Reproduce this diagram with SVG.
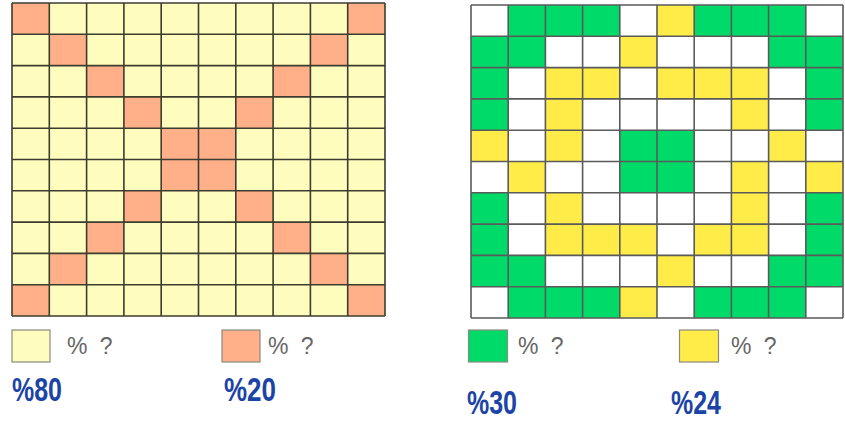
<svg xmlns="http://www.w3.org/2000/svg" width="845" height="425" viewBox="0 0 845 425">
<style>
.ly{fill:#FFFDBE}.or{fill:#FFB088}.gr{fill:#00DA68}.ye{fill:#FFEC48}.wh{fill:#FFFFFF}
.gl{fill:none;stroke:#3c3c30;stroke-width:1.6}
.gr2{fill:none;stroke:#5a5a5a;stroke-width:1.6}
.q{font-family:"Liberation Sans",Arial,sans-serif;font-size:23px;fill:#666666;word-spacing:6px}
.pc{font-family:"Liberation Sans",Arial,sans-serif;font-weight:bold;font-size:33px;fill:#1C44A6}
.lb{stroke:#8a8a80;stroke-width:1.2}
</style>
<rect width="845" height="425" fill="#FFFFFF"/>
<g id="left-grid">
<rect x="12" y="3" width="373" height="313" class="ly"/>
<g class="or">
<rect x="12" y="3" width="37.3" height="31.3"/><rect x="347.7" y="3" width="37.3" height="31.3"/>
<rect x="49.3" y="34.3" width="37.3" height="31.3"/><rect x="310.4" y="34.3" width="37.3" height="31.3"/>
<rect x="86.6" y="65.6" width="37.3" height="31.3"/><rect x="273.1" y="65.6" width="37.3" height="31.3"/>
<rect x="123.9" y="96.9" width="37.3" height="31.3"/><rect x="235.8" y="96.9" width="37.3" height="31.3"/>
<rect x="161.2" y="128.2" width="37.3" height="31.3"/><rect x="198.5" y="128.2" width="37.3" height="31.3"/>
<rect x="161.2" y="159.5" width="37.3" height="31.3"/><rect x="198.5" y="159.5" width="37.3" height="31.3"/>
<rect x="123.9" y="190.8" width="37.3" height="31.3"/><rect x="235.8" y="190.8" width="37.3" height="31.3"/>
<rect x="86.6" y="222.1" width="37.3" height="31.3"/><rect x="273.1" y="222.1" width="37.3" height="31.3"/>
<rect x="49.3" y="253.4" width="37.3" height="31.3"/><rect x="310.4" y="253.4" width="37.3" height="31.3"/>
<rect x="12" y="284.7" width="37.3" height="31.3"/><rect x="347.7" y="284.7" width="37.3" height="31.3"/>
</g>
<path class="gl" d="M12 3V316M49.3 3V316M86.6 3V316M123.9 3V316M161.2 3V316M198.5 3V316M235.8 3V316M273.1 3V316M310.4 3V316M347.7 3V316M385 3V316M12 3H385M12 34.3H385M12 65.6H385M12 96.9H385M12 128.2H385M12 159.5H385M12 190.8H385M12 222.1H385M12 253.4H385M12 284.7H385M12 316H385"/>
</g>
<g id="right-grid">
<rect x="471" y="5" width="372" height="313" class="wh"/>
<g class="gr">
<!-- row0 -->
<rect x="508.2" y="5" width="37.2" height="31.3"/><rect x="545.4" y="5" width="37.2" height="31.3"/><rect x="582.6" y="5" width="37.2" height="31.3"/>
<rect x="694.2" y="5" width="37.2" height="31.3"/><rect x="731.4" y="5" width="37.2" height="31.3"/><rect x="768.6" y="5" width="37.2" height="31.3"/>
<!-- row1 -->
<rect x="471" y="36.3" width="37.2" height="31.3"/><rect x="508.2" y="36.3" width="37.2" height="31.3"/>
<rect x="768.6" y="36.3" width="37.2" height="31.3"/><rect x="805.8" y="36.3" width="37.2" height="31.3"/>
<!-- rows 2,3 -->
<rect x="471" y="67.6" width="37.2" height="31.3"/><rect x="805.8" y="67.6" width="37.2" height="31.3"/>
<rect x="471" y="98.9" width="37.2" height="31.3"/><rect x="805.8" y="98.9" width="37.2" height="31.3"/>
<!-- rows 4,5 center -->
<rect x="619.8" y="130.2" width="37.2" height="31.3"/><rect x="657" y="130.2" width="37.2" height="31.3"/>
<rect x="619.8" y="161.5" width="37.2" height="31.3"/><rect x="657" y="161.5" width="37.2" height="31.3"/>
<!-- rows 6,7 -->
<rect x="471" y="192.8" width="37.2" height="31.3"/><rect x="805.8" y="192.8" width="37.2" height="31.3"/>
<rect x="471" y="224.1" width="37.2" height="31.3"/><rect x="805.8" y="224.1" width="37.2" height="31.3"/>
<!-- row8 -->
<rect x="471" y="255.4" width="37.2" height="31.3"/><rect x="508.2" y="255.4" width="37.2" height="31.3"/>
<rect x="768.6" y="255.4" width="37.2" height="31.3"/><rect x="805.8" y="255.4" width="37.2" height="31.3"/>
<!-- row9 -->
<rect x="508.2" y="286.7" width="37.2" height="31.3"/><rect x="545.4" y="286.7" width="37.2" height="31.3"/><rect x="582.6" y="286.7" width="37.2" height="31.3"/>
<rect x="694.2" y="286.7" width="37.2" height="31.3"/><rect x="731.4" y="286.7" width="37.2" height="31.3"/><rect x="768.6" y="286.7" width="37.2" height="31.3"/>
</g>
<g class="ye">
<!-- row0 -->
<rect x="657" y="5" width="37.2" height="31.3"/>
<!-- row1 -->
<rect x="619.8" y="36.3" width="37.2" height="31.3"/>
<!-- row2 -->
<rect x="545.4" y="67.6" width="37.2" height="31.3"/><rect x="582.6" y="67.6" width="37.2" height="31.3"/>
<rect x="657" y="67.6" width="37.2" height="31.3"/><rect x="694.2" y="67.6" width="37.2" height="31.3"/><rect x="731.4" y="67.6" width="37.2" height="31.3"/>
<!-- row3 -->
<rect x="545.4" y="98.9" width="37.2" height="31.3"/><rect x="731.4" y="98.9" width="37.2" height="31.3"/>
<!-- row4 -->
<rect x="471" y="130.2" width="37.2" height="31.3"/><rect x="545.4" y="130.2" width="37.2" height="31.3"/><rect x="768.6" y="130.2" width="37.2" height="31.3"/>
<!-- row5 -->
<rect x="508.2" y="161.5" width="37.2" height="31.3"/><rect x="731.4" y="161.5" width="37.2" height="31.3"/><rect x="805.8" y="161.5" width="37.2" height="31.3"/>
<!-- row6 -->
<rect x="545.4" y="192.8" width="37.2" height="31.3"/><rect x="731.4" y="192.8" width="37.2" height="31.3"/>
<!-- row7 -->
<rect x="545.4" y="224.1" width="37.2" height="31.3"/><rect x="582.6" y="224.1" width="37.2" height="31.3"/><rect x="619.8" y="224.1" width="37.2" height="31.3"/>
<rect x="694.2" y="224.1" width="37.2" height="31.3"/><rect x="731.4" y="224.1" width="37.2" height="31.3"/>
<!-- row8 -->
<rect x="657" y="255.4" width="37.2" height="31.3"/>
<!-- row9 -->
<rect x="619.8" y="286.7" width="37.2" height="31.3"/>
</g>
<path class="gr2" d="M471 5V318M508.2 5V318M545.4 5V318M582.6 5V318M619.8 5V318M657 5V318M694.2 5V318M731.4 5V318M768.6 5V318M805.8 5V318M843 5V318M471 5H843M471 36.3H843M471 67.6H843M471 98.9H843M471 130.2H843M471 161.5H843M471 192.8H843M471 224.1H843M471 255.4H843M471 286.7H843M471 318H843"/>
</g>
<g id="legend-yellow-light">
<rect x="12" y="330" width="38" height="32" class="ly lb"/>
<text x="67" y="354" class="q">% ?</text>
<text x="12" y="401" class="pc" textLength="50" lengthAdjust="spacingAndGlyphs">%80</text>
</g>
<g id="legend-orange">
<rect x="222" y="330" width="38" height="32" class="or lb"/>
<text x="268" y="354" class="q">% ?</text>
<text x="224" y="401" class="pc" textLength="52" lengthAdjust="spacingAndGlyphs">%20</text>
</g>
<g id="legend-green">
<rect x="468.5" y="330" width="39" height="32" class="gr lb"/>
<text x="518" y="354" class="q">% ?</text>
<text x="467" y="414" class="pc" textLength="50" lengthAdjust="spacingAndGlyphs">%30</text>
</g>
<g id="legend-yellow">
<rect x="679.5" y="330" width="39" height="32" class="ye lb"/>
<text x="731" y="354" class="q">% ?</text>
<text x="671" y="414" class="pc" textLength="50" lengthAdjust="spacingAndGlyphs">%24</text>
</g>
</svg>
